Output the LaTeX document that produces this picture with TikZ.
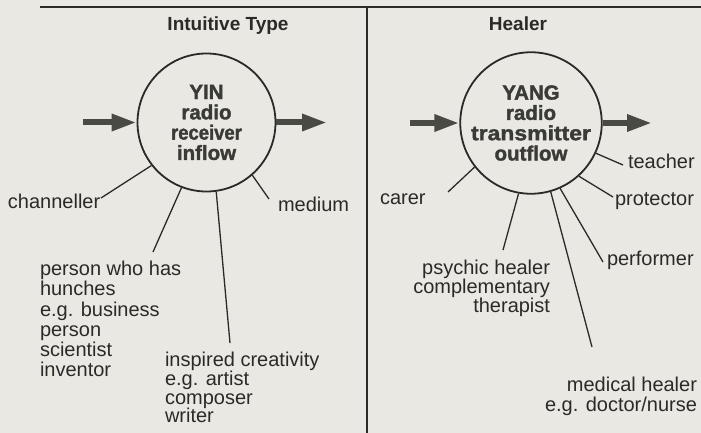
\documentclass[tikz,border=0pt]{standalone}
\usepackage{fontspec}
\usepackage{graphicx}
\setmainfont{Liberation Sans}
\newfontfamily\heavyfont[FakeBold=1.6]{Liberation Sans Bold}
\usetikzlibrary{arrows.meta}
\definecolor{paper}{HTML}{EAE8E3}
\definecolor{ink}{HTML}{2A2A28}
\definecolor{coreink}{HTML}{3A3A37}
\definecolor{flowgray}{HTML}{4A4A45}
\begin{document}
\begin{tikzpicture}[x=1pt,y=-1pt,
  lbl/.style={font=\fontsize{20}{20.3}\selectfont, text=ink, inner sep=0pt, outer sep=0pt},
  ttl/.style={font=\bfseries\fontsize{19}{20}\selectfont, text=ink, inner sep=0pt},
  core/.style={circle, draw=ink, line width=1.8pt, minimum size=138pt, inner sep=0pt,
    align=center, font=\heavyfont\fontsize{20.5}{20.3}\selectfont, text=coreink},
  spoke/.style={draw=ink, line width=1.3pt},
  flow/.style={draw=flowgray, line width=6pt, -{Triangle[length=25pt,width=16pt]}},
  rule/.style={draw=ink, line width=2.2pt}
]
\fill[paper] (0,0) rectangle (701,433);
\useasboundingbox (0,0) rectangle (701,433);

% frame
\coordinate (tl) at (40,7);
\coordinate (tr) at (701,7);
\coordinate (dt) at (367,7);
\coordinate (db) at (367,433);
\draw[rule] (tl) -- (tr);
\draw[rule] (dt) -- (db);

% titles
\node[ttl, anchor=base] (t1) at (228,31) {Intuitive Type};
\node[ttl, anchor=base] (t2) at (518,31) {Healer};

% circles
\node[core] (yin) at (206.5,122.5) {YIN\\radio\\\scalebox{0.9}[1]{receiver}\\inflow};
\node[core] (yang) at (531,123) {YANG\\radio\\\scalebox{1.12}[1]{transmitter}\\outflow};

% flow arrows
\coordinate (inL) at (83,122.5);
\coordinate (outL) at (327,122.5);
\coordinate (inR) at (410,123);
\coordinate (outR) at (652,123);
\draw[flow] (inL) -- (yin.west);
\draw[flow] (yin.east) -- (outL);
\draw[flow] (inR) -- (yang.west);
\draw[flow] (yang.east) -- (outR);

% left labels
\node[lbl, anchor=base west] (chan) at (8,208) {channeller};
\node[lbl, anchor=base west] (med) at (278,211) {medium};
\node[lbl, anchor=north west, align=left] (hun) at (40,261)
  {person who has\\hunches\\e.g. business\\person\\scientist\\inventor};
\node[lbl, anchor=north west, align=left, font=\fontsize{20}{18.8}\selectfont] (insp) at (165,352)
  {inspired creativity\\e.g. artist\\composer\\writer};

\coordinate (eChan) at (101,198);
\coordinate (eHun) at (153,252);
\coordinate (eInsp) at (230,343);
\coordinate (eMed) at (269,199);
\draw[spoke] (yin.218.6) -- (eChan);
\draw[spoke] (yin.249.5) -- (eHun);
\draw[spoke] (yin.278.8) -- (eInsp);
\draw[spoke] (yin.311.7) -- (eMed);

% right labels
\node[lbl, anchor=base west] (car) at (380,204) {carer};
\node[lbl, anchor=base west] (tea) at (628,168) {teacher};
\node[lbl, anchor=base west] (pro) at (615,205) {protector};
\node[lbl, anchor=base west] (perf) at (607,265) {performer};
\node[lbl, anchor=north east, align=right, font=\fontsize{20}{19}\selectfont] (psy) at (550,260)
  {psychic healer\\complementary\\therapist};
\node[lbl, anchor=north east, align=right] (medh) at (697,377)
  {medical healer\\e.g. doctor/nurse};

\coordinate (eCar) at (448,192);
\coordinate (eTea) at (623,165);
\coordinate (ePro) at (613,197);
\coordinate (ePsy) at (503,250);
\coordinate (eMedh) at (592,347);
\coordinate (ePerf) at (603,262);
\draw[spoke] (yang.218.2) -- (eCar);
\draw[spoke] (yang.335.4) -- (eTea);
\draw[spoke] (yang.312.4) -- (ePro);
\draw[spoke] (yang.260.8) -- (ePsy);
\draw[spoke] (yang.286) -- (eMedh);
\draw[spoke] (yang.294) -- (ePerf);
\end{tikzpicture}
\end{document}
